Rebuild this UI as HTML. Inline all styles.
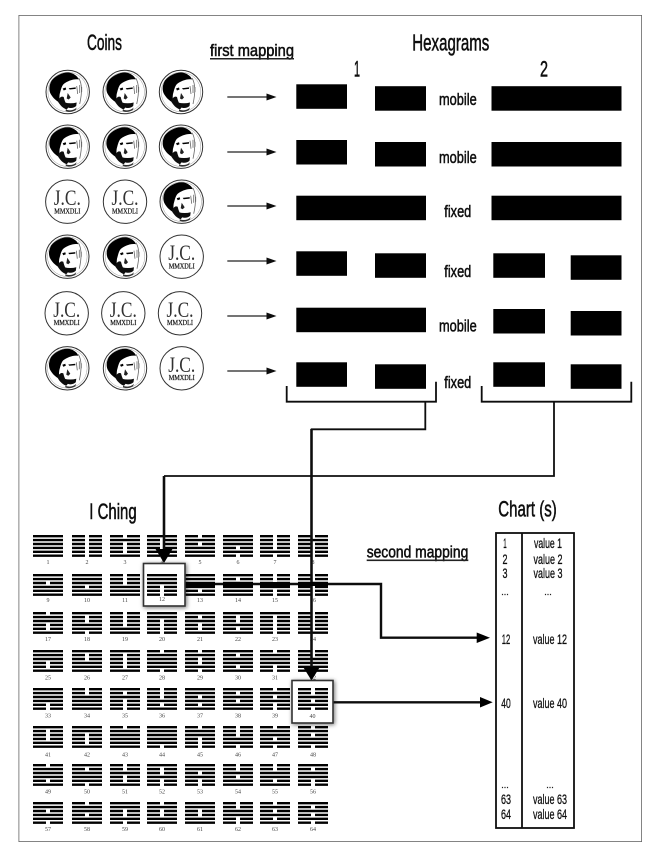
<!DOCTYPE html>
<html><head><meta charset="utf-8"><style>html,body{margin:0;padding:0;background:#fff}svg{display:block}
text{font-family:"Liberation Sans",sans-serif;fill:#111}
.t{stroke:#111;stroke-width:.55}
.c text{stroke:#111;stroke-width:.3}
.n text,text.n{font-family:"Liberation Serif",serif;font-size:6px;fill:#444;text-anchor:middle}
.b{fill:#000}
.l{fill:none;stroke:#111}
</style></head><body>
<svg width="652" height="855" viewBox="0 0 652 855" xmlns="http://www.w3.org/2000/svg">
<defs>
<filter id="bl" x="0" y="0" width="100%" height="100%"><feGaussianBlur stdDeviation="0.35"/></filter>
<filter id="sh" x="-30%" y="-30%" width="160%" height="160%"><feDropShadow dx="1" dy="1" stdDeviation="2" flood-color="#000" flood-opacity=".55"/></filter>
<g id="t111" stroke="#000" stroke-width="2.400"><path d="M0 1.200h30M0 5.100h30M0 9h30"/></g>
<g id="t110" stroke="#000" stroke-width="2.400"><path d="M0 1.200h30M0 5.100h30M0 9h13m4 0h13"/></g>
<g id="t101" stroke="#000" stroke-width="2.400"><path d="M0 1.200h30M0 5.100h13m4 0h13M0 9h30"/></g>
<g id="t100" stroke="#000" stroke-width="2.400"><path d="M0 1.200h30M0 5.100h13m4 0h13M0 9h13m4 0h13"/></g>
<g id="t011" stroke="#000" stroke-width="2.400"><path d="M0 1.200h13m4 0h13M0 5.100h30M0 9h30"/></g>
<g id="t010" stroke="#000" stroke-width="2.400"><path d="M0 1.200h13m4 0h13M0 5.100h30M0 9h13m4 0h13"/></g>
<g id="t001" stroke="#000" stroke-width="2.400"><path d="M0 1.200h13m4 0h13M0 5.100h13m4 0h13M0 9h30"/></g>
<g id="t000" stroke="#000" stroke-width="2.400"><path d="M0 1.200h13m4 0h13M0 5.100h13m4 0h13M0 9h13m4 0h13"/></g>
<g id="F">
<circle r="21.700" fill="#fff" stroke="#333" stroke-width="1"/>
<circle r="19.800" fill="none" stroke="#999" stroke-width=".5"/>
<path d="M0-19.500C5-19.500 10-16 11-12.500 6-13.500 0-11-4-8-6.500-5.500-7-1-8 2-8.500 5-8 8-9 10-12 8.500-15.500 5-17.500 1-19-3-18.500-7-16-11.500-12.500-16-6-19.500 0-19.500Z" fill="#000"/>
<path d="M-10 9C-8 5-6 4-4 5-3 9-2 12 1 15L-1 17.500C-5 16-8 13-10 9Z" fill="#111"/>
<path d="M-3 10.500C1 11.500 5 11.500 9 10.500L8.500 14C6 16.500 2 16.500-1 15Z" fill="#111"/>
<path d="M-2 17.500C2 19 6 18.500 9 15.500L8 18C5 20 1 20.500-2 19Z" fill="#333"/>
<path d="M1-3.800l7-.8v1.500l-6 .6zM-5-3.500l3-1 .5 2-2.500 1z" fill="#000"/>
<path d="M0 1l3 4.500-2 2-2-1z" fill="#222"/>
<path d="M9-6l1 8M12-7v8M14-5v5M11-14Q16-6 12 12" stroke="#666" stroke-width=".8" fill="none"/>
</g>
<g id="J">
<circle r="21.700" fill="#fff" stroke="#333" stroke-width="1"/>
<text x="0" y="3.500" text-anchor="middle" textLength="27" lengthAdjust="spacingAndGlyphs" style="font-family:'Liberation Serif',serif;font-size:22px;fill:#333">J.C.</text>
<text x="0" y="11.700" text-anchor="middle" textLength="26" lengthAdjust="spacingAndGlyphs" style="font-family:'Liberation Serif',serif;font-size:7.500px;fill:#111;stroke:#111;stroke-width:.2">MMXDLI</text>
</g>
</defs>
<rect width="652" height="855" fill="#fff"/>
<g filter="url(#bl)">
<rect x="18.500" y="15" width="623.500" height="827" fill="none" stroke="#666" stroke-width="1.600"/>

<text class="t" x="87" y="50" font-size="22" textLength="35" lengthAdjust="spacingAndGlyphs">Coins</text>
<text class="t" x="210" y="56" font-size="17" textLength="84" lengthAdjust="spacingAndGlyphs">first mapping</text>
<rect x="210" y="58" width="84" height="1.500" fill="#222"/>
<text class="t" x="412.300" y="50.700" font-size="23" textLength="77" lengthAdjust="spacingAndGlyphs">Hexagrams</text>
<text class="t" x="354" y="76.700" font-size="22" textLength="6" lengthAdjust="spacingAndGlyphs">1</text>
<text class="t" x="540" y="76.700" font-size="22" textLength="8" lengthAdjust="spacingAndGlyphs">2</text>

<use href="#F" x="67.700" y="92"/><use href="#F" x="124.700" y="92"/><use href="#F" x="181" y="92"/>
<use href="#F" x="67.700" y="146.700"/><use href="#F" x="124.700" y="146.700"/><use href="#F" x="181" y="146.700"/>
<use href="#J" x="67.300" y="201.700"/><use href="#J" x="125" y="201.700"/><use href="#F" x="181.700" y="201.700"/>
<use href="#F" x="67.300" y="256.700"/><use href="#F" x="125" y="256.700"/><use href="#J" x="181.700" y="256.700"/>
<use href="#J" x="66.700" y="313.300"/><use href="#J" x="123.300" y="313.300"/><use href="#J" x="180" y="313.300"/>
<use href="#F" x="67.300" y="368.300"/><use href="#F" x="125" y="368.300"/><use href="#J" x="181.700" y="368.300"/>

<g stroke="#222" stroke-width="1.300"><path d="M227.300 97h40M227.300 152h40M227.300 206h40M227.300 261h40M227.300 316h40M227.300 371h40"/></g>
<g fill="#111"><path d="M266.500 93.500l10 3.500-10 3.500zM266.500 148.500l10 3.500-10 3.500zM266.500 202.500l10 3.500-10 3.500zM266.500 257.500l10 3.500-10 3.500zM266.500 312.500l10 3.500-10 3.500zM266.500 367.500l10 3.500-10 3.500z"/></g>

<g class="b">
<rect x="296.300" y="84.300" width="50.700" height="24.500"/><rect x="375" y="86.200" width="51" height="24.500"/><rect x="491.500" y="86.200" width="130" height="24.500"/>
<rect x="296.300" y="140" width="50.700" height="24.500"/><rect x="375" y="142" width="51" height="24.500"/><rect x="491.500" y="142" width="130" height="24.500"/>
<rect x="296.300" y="195.700" width="129.700" height="24.500"/><rect x="491.500" y="195.700" width="130" height="24.500"/>
<rect x="296.300" y="251.300" width="50.700" height="24.500"/><rect x="375" y="253.300" width="51" height="24.500"/><rect x="493.300" y="253.300" width="51.700" height="24.500"/><rect x="570.700" y="255.300" width="50.800" height="24.500"/>
<rect x="296.300" y="307.700" width="129.700" height="24.500"/><rect x="493.300" y="309" width="51.700" height="24.500"/><rect x="570.700" y="311" width="50.800" height="24.500"/>
<rect x="296.300" y="362.300" width="50.700" height="24.500"/><rect x="375" y="364.300" width="51" height="24.500"/><rect x="493.300" y="362.300" width="51.700" height="24.500"/><rect x="570.700" y="364.300" width="50.800" height="24.500"/>
</g>
<g font-size="17">
<text class="t" x="439" y="105" textLength="37.700" lengthAdjust="spacingAndGlyphs">mobile</text>
<text class="t" x="439" y="163" textLength="37.700" lengthAdjust="spacingAndGlyphs">mobile</text>
<text class="t" x="444.300" y="217" textLength="27" lengthAdjust="spacingAndGlyphs">fixed</text>
<text class="t" x="444.300" y="277" textLength="27" lengthAdjust="spacingAndGlyphs">fixed</text>
<text class="t" x="439" y="331.700" textLength="37.700" lengthAdjust="spacingAndGlyphs">mobile</text>
<text class="t" x="444.300" y="388" textLength="27" lengthAdjust="spacingAndGlyphs">fixed</text>
</g>

<g class="l" stroke-width="1.800">
<path d="M286.700 386V401.700H436V381.700"/>
<path d="M481.700 386V401.700H631.300V381.700"/>
<path d="M425.300 401.700V429.300H310.800"/>
<path d="M554 401.700V476H164"/>
</g>

<!-- hexagrams -->
<g transform="translate(0,535)">
<use href="#t111" x="33"/><use href="#t000" x="72"/><use href="#t010" x="110"/><use href="#t100" x="147"/><use href="#t010" x="185"/><use href="#t111" x="223"/><use href="#t000" x="260"/><use href="#t010" x="298"/>
<g transform="translate(0,11.700)"><use href="#t111" x="33"/><use href="#t000" x="72"/><use href="#t001" x="110"/><use href="#t010" x="147"/><use href="#t111" x="185"/><use href="#t010" x="223"/><use href="#t010" x="260"/><use href="#t000" x="298"/></g>
</g>
<g transform="translate(0,574)">
<use href="#t110" x="33"/><use href="#t111" x="72"/><use href="#t000" x="110"/><use href="#t111" x="185"/><use href="#t101" x="223"/><use href="#t000" x="260"/><use href="#t001" x="298"/>
<g transform="translate(0,11.700)"><use href="#t111" x="33"/><use href="#t011" x="72"/><use href="#t111" x="110"/><use href="#t101" x="185"/><use href="#t111" x="223"/><use href="#t100" x="260"/><use href="#t000" x="298"/></g>
</g>
<g transform="translate(0,612)">
<use href="#t011" x="33"/><use href="#t100" x="72"/><use href="#t000" x="110"/><use href="#t110" x="147"/><use href="#t101" x="185"/><use href="#t100" x="223"/><use href="#t100" x="260"/><use href="#t000" x="298"/>
<g transform="translate(0,11.700)"><use href="#t001" x="33"/><use href="#t110" x="72"/><use href="#t011" x="110"/><use href="#t000" x="147"/><use href="#t001" x="185"/><use href="#t101" x="223"/><use href="#t000" x="260"/><use href="#t001" x="298"/></g>
</g>
<g transform="translate(0,650)">
<use href="#t111" x="33"/><use href="#t100" x="72"/><use href="#t100" x="110"/><use href="#t011" x="147"/><use href="#t010" x="185"/><use href="#t101" x="223"/><use href="#t011" x="260"/><use href="#t001" x="298"/>
<g transform="translate(0,11.700)"><use href="#t001" x="33"/><use href="#t111" x="72"/><use href="#t001" x="110"/><use href="#t110" x="147"/><use href="#t010" x="185"/><use href="#t101" x="223"/><use href="#t100" x="260"/><use href="#t110" x="298"/></g>
</g>
<g transform="translate(0,688)">
<use href="#t111" x="33"/><use href="#t001" x="72"/><use href="#t101" x="110"/><use href="#t000" x="147"/><use href="#t110" x="185"/><use href="#t101" x="223"/><use href="#t010" x="260"/>
<g transform="translate(0,11.700)"><use href="#t100" x="33"/><use href="#t111" x="72"/><use href="#t000" x="110"/><use href="#t101" x="147"/><use href="#t101" x="185"/><use href="#t011" x="223"/><use href="#t100" x="260"/></g>
</g>
<g transform="translate(0,726)">
<use href="#t100" x="33"/><use href="#t110" x="72"/><use href="#t011" x="110"/><use href="#t111" x="147"/><use href="#t011" x="185"/><use href="#t000" x="223"/><use href="#t011" x="260"/><use href="#t010" x="298"/>
<g transform="translate(0,11.700)"><use href="#t011" x="33"/><use href="#t001" x="72"/><use href="#t111" x="110"/><use href="#t110" x="147"/><use href="#t000" x="185"/><use href="#t110" x="223"/><use href="#t010" x="260"/><use href="#t110" x="298"/></g>
</g>
<g transform="translate(0,764)">
<use href="#t011" x="33"/><use href="#t101" x="72"/><use href="#t001" x="110"/><use href="#t100" x="147"/><use href="#t110" x="185"/><use href="#t001" x="223"/><use href="#t001" x="260"/><use href="#t101" x="298"/>
<g transform="translate(0,11.700)"><use href="#t101" x="33"/><use href="#t110" x="72"/><use href="#t001" x="110"/><use href="#t100" x="147"/><use href="#t100" x="185"/><use href="#t011" x="223"/><use href="#t101" x="260"/><use href="#t100" x="298"/></g>
</g>
<g transform="translate(0,802)">
<use href="#t110" x="33"/><use href="#t011" x="72"/><use href="#t110" x="110"/><use href="#t010" x="147"/><use href="#t110" x="185"/><use href="#t001" x="223"/><use href="#t010" x="260"/><use href="#t101" x="298"/>
<g transform="translate(0,11.700)"><use href="#t110" x="33"/><use href="#t011" x="72"/><use href="#t010" x="110"/><use href="#t011" x="147"/><use href="#t011" x="185"/><use href="#t100" x="223"/><use href="#t101" x="260"/><use href="#t010" x="298"/></g>
</g>

<g class="n">
<text x="48" y="564">1</text><text x="87" y="564">2</text><text x="125" y="564">3</text><text x="162" y="564">4</text><text x="200" y="564">5</text><text x="238" y="564">6</text><text x="275" y="564">7</text><text x="313" y="564">8</text>
<text x="48" y="602">9</text><text x="87" y="602">10</text><text x="125" y="602">11</text><text x="200" y="602">13</text><text x="238" y="602">14</text><text x="275" y="602">15</text><text x="313" y="602">16</text>
<text x="48" y="641">17</text><text x="87" y="641">18</text><text x="125" y="641">19</text><text x="162" y="641">20</text><text x="200" y="641">21</text><text x="238" y="641">22</text><text x="275" y="641">23</text><text x="313" y="641">24</text>
<text x="48" y="679.500">25</text><text x="87" y="679.500">26</text><text x="125" y="679.500">27</text><text x="162" y="679.500">28</text><text x="200" y="679.500">29</text><text x="238" y="679.500">30</text><text x="275" y="679.500">31</text><text x="313" y="679.500">32</text>
<text x="48" y="717.500">33</text><text x="87" y="717.500">34</text><text x="125" y="717.500">35</text><text x="162" y="717.500">36</text><text x="200" y="717.500">37</text><text x="238" y="717.500">38</text><text x="275" y="717.500">39</text>
<text x="48" y="756.500">41</text><text x="87" y="756.500">42</text><text x="125" y="756.500">43</text><text x="162" y="756.500">44</text><text x="200" y="756.500">45</text><text x="238" y="756.500">46</text><text x="275" y="756.500">47</text><text x="313" y="756.500">48</text>
<text x="48" y="793.500">49</text><text x="87" y="793.500">50</text><text x="125" y="793.500">51</text><text x="162" y="793.500">52</text><text x="200" y="793.500">53</text><text x="238" y="793.500">54</text><text x="275" y="793.500">55</text><text x="313" y="793.500">56</text>
<text x="48" y="831">57</text><text x="87" y="831">58</text><text x="125" y="831">59</text><text x="162" y="831">60</text><text x="200" y="831">61</text><text x="238" y="831">62</text><text x="275" y="831">63</text><text x="313" y="831">64</text>
</g>

<text class="t" x="89.300" y="519" font-size="22" textLength="47.400" lengthAdjust="spacingAndGlyphs">I Ching</text>
<text class="t" x="366.700" y="557.700" font-size="17" textLength="101.600" lengthAdjust="spacingAndGlyphs">second mapping</text>
<rect x="366.700" y="559.500" width="101.600" height="1.600" fill="#222"/>
<text class="t" x="498.300" y="516.700" font-size="22" textLength="58.400" lengthAdjust="spacingAndGlyphs">Chart (s)</text>

<!-- connectors over grid -->
<path class="l" stroke-width="2.600" d="M311.500 429V668"/>
<path class="l" stroke-width="2.600" d="M164 476V550"/>
<path class="l" stroke-width="2.400" d="M185 584H381V637.700H478"/>
<path class="l" stroke-width="2.400" d="M333 702.300H481"/>
<rect x="185" y="582" width="30" height="4.500" fill="#000"/>
<rect x="223" y="582" width="30" height="4.500" fill="#000"/>
<rect x="260" y="582" width="30" height="4" fill="#000"/>
<rect x="298" y="582" width="30" height="4" fill="#000"/>
<path d="M155.500 549H172.500L164 563ZM303 666.700H320L311.500 680.500Z" fill="#000"/>
<path d="M476.700 632.500L490 637.700 476.700 643ZM480 697L492.700 702.300 480 707.500Z" fill="#000"/>

<!-- highlight boxes -->
<rect x="143.500" y="563.500" width="41.500" height="42.500" fill="#fff" stroke="#333" stroke-width="1.600" filter="url(#sh)"/>
<use href="#t111" x="147" y="574"/><use href="#t000" x="147" y="585.700"/>
<text class="n" x="162" y="601">12</text>
<rect x="292" y="680.500" width="41" height="42.500" fill="#fff" stroke="#333" stroke-width="1.600" filter="url(#sh)"/>
<use href="#t001" x="298" y="688"/><use href="#t010" x="298" y="699.700"/>
<text class="n" x="312.500" y="718">40</text>

<!-- chart -->
<rect x="496" y="533" width="78" height="295" fill="#fff" stroke="#111" stroke-width="1.800"/>
<path d="M522 533V828" stroke="#111" stroke-width="1.800"/>
<g class="c" font-size="14">
<text x="505" y="548" text-anchor="middle" textLength="3.500" lengthAdjust="spacingAndGlyphs">1</text>
<text x="505" y="564" text-anchor="middle" textLength="5" lengthAdjust="spacingAndGlyphs">2</text>
<text x="505" y="578" text-anchor="middle" textLength="5" lengthAdjust="spacingAndGlyphs">3</text>
<text x="505" y="595" text-anchor="middle" font-size="9">...</text>
<text x="506" y="644" text-anchor="middle" textLength="8.500" lengthAdjust="spacingAndGlyphs">12</text>
<text x="506" y="708" text-anchor="middle" textLength="9.500" lengthAdjust="spacingAndGlyphs">40</text>
<text x="505" y="788" text-anchor="middle" font-size="9">...</text>
<text x="506" y="804" text-anchor="middle" textLength="10" lengthAdjust="spacingAndGlyphs">63</text>
<text x="506" y="819" text-anchor="middle" textLength="10" lengthAdjust="spacingAndGlyphs">64</text>
<text x="548" y="548" text-anchor="middle" textLength="28" lengthAdjust="spacingAndGlyphs">value 1</text>
<text x="548" y="564" text-anchor="middle" textLength="29" lengthAdjust="spacingAndGlyphs">value 2</text>
<text x="548" y="578" text-anchor="middle" textLength="29" lengthAdjust="spacingAndGlyphs">value 3</text>
<text x="548" y="595" text-anchor="middle" font-size="9">...</text>
<text x="550" y="644" text-anchor="middle" textLength="34" lengthAdjust="spacingAndGlyphs">value 12</text>
<text x="550" y="708" text-anchor="middle" textLength="34" lengthAdjust="spacingAndGlyphs">value 40</text>
<text x="550" y="788" text-anchor="middle" font-size="9">...</text>
<text x="550" y="804" text-anchor="middle" textLength="34" lengthAdjust="spacingAndGlyphs">value 63</text>
<text x="550" y="819" text-anchor="middle" textLength="34" lengthAdjust="spacingAndGlyphs">value 64</text>
</g>
</g>
</svg>
</body></html>
